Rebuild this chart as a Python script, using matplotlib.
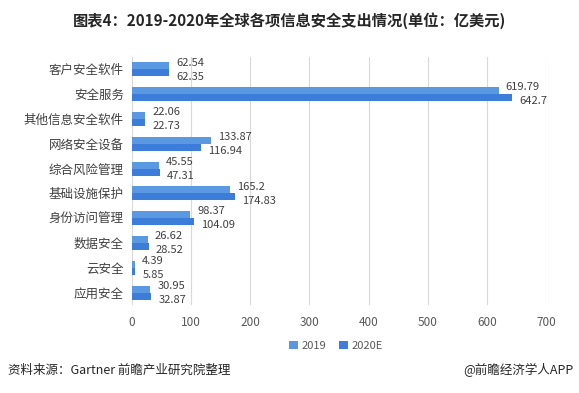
import numpy as np
import matplotlib
matplotlib.use("Agg")
import matplotlib.pyplot as plt

plt.rcParams['font.family'] = ['Noto Sans CJK SC', 'DejaVu Sans']

categories = ['客户安全软件', '安全服务', '其他信息安全软件', '网络安全设备', '综合风险管理',
              '基础设施保护', '身份访问管理', '数据安全', '云安全', '应用安全']
values_2019 = [62.54, 619.79, 22.06, 133.87, 45.55, 165.2, 98.37, 26.62, 4.39, 30.95]
values_2020 = [62.35, 642.7, 22.73, 116.94, 47.31, 174.83, 104.09, 28.52, 5.85, 32.87]
labels_2019 = ['62.54', '619.79', '22.06', '133.87', '45.55', '165.2', '98.37', '26.62', '4.39', '30.95']
labels_2020 = ['62.35', '642.7', '22.73', '116.94', '47.31', '174.83', '104.09', '28.52', '5.85', '32.87']

c2019 = '#5b98e2'
c2020 = '#3b7dd8'

fig = plt.figure(figsize=(5.79, 3.93), dpi=100)
ax = fig.add_axes([0.228, 0.224, 0.715, 0.631])

y = np.arange(len(categories))
h = 0.28
ax.barh(y - h / 2, values_2019, height=h, color=c2019, label='2019')
ax.barh(y + h / 2, values_2020, height=h, color=c2020, label='2020E')

for yi, v, t in zip(y, values_2019, labels_2019):
    ax.text(v + 12, yi - 0.27, t, va='center', ha='left', fontsize=8, color='#404040')
for yi, v, t in zip(y, values_2020, labels_2020):
    ax.text(v + 12, yi + 0.29, t, va='center', ha='left', fontsize=8, color='#404040')

ax.set_xlim(0, 700)
ax.set_ylim(len(categories) - 0.5, -0.5)
ax.set_xticks(np.arange(0, 701, 100))
ax.set_yticks(y)
ax.set_yticklabels(categories, fontsize=9, color='#404040')
ax.tick_params(axis='x', labelsize=8.5, colors='#595959', length=0, pad=8)
ax.tick_params(axis='y', length=0, pad=6)
ax.grid(axis='x', color='#d9d9d9', linewidth=0.8)
ax.set_axisbelow(True)
for s in ax.spines.values():
    s.set_visible(False)

fig.legend(loc='center', bbox_to_anchor=(0.58, 0.12), ncol=2, frameon=False,
           fontsize=8, handlelength=0.8, handleheight=0.8, handletextpad=0.3,
           columnspacing=1.2, labelcolor='#595959')

fig.text(0.5, 0.948, '图表4：2019-2020年全球各项信息安全支出情况(单位：亿美元)',
         ha='center', va='center', fontsize=11, fontweight='bold', color='#262626')
fig.text(0.014, 0.058, '资料来源：Gartner 前瞻产业研究院整理', ha='left', va='center',
         fontsize=9, color='#262626')
fig.text(0.99, 0.058, '@前瞻经济学人APP', ha='right', va='center',
         fontsize=9, color='#262626')

fig.savefig('out.png', dpi=100)
